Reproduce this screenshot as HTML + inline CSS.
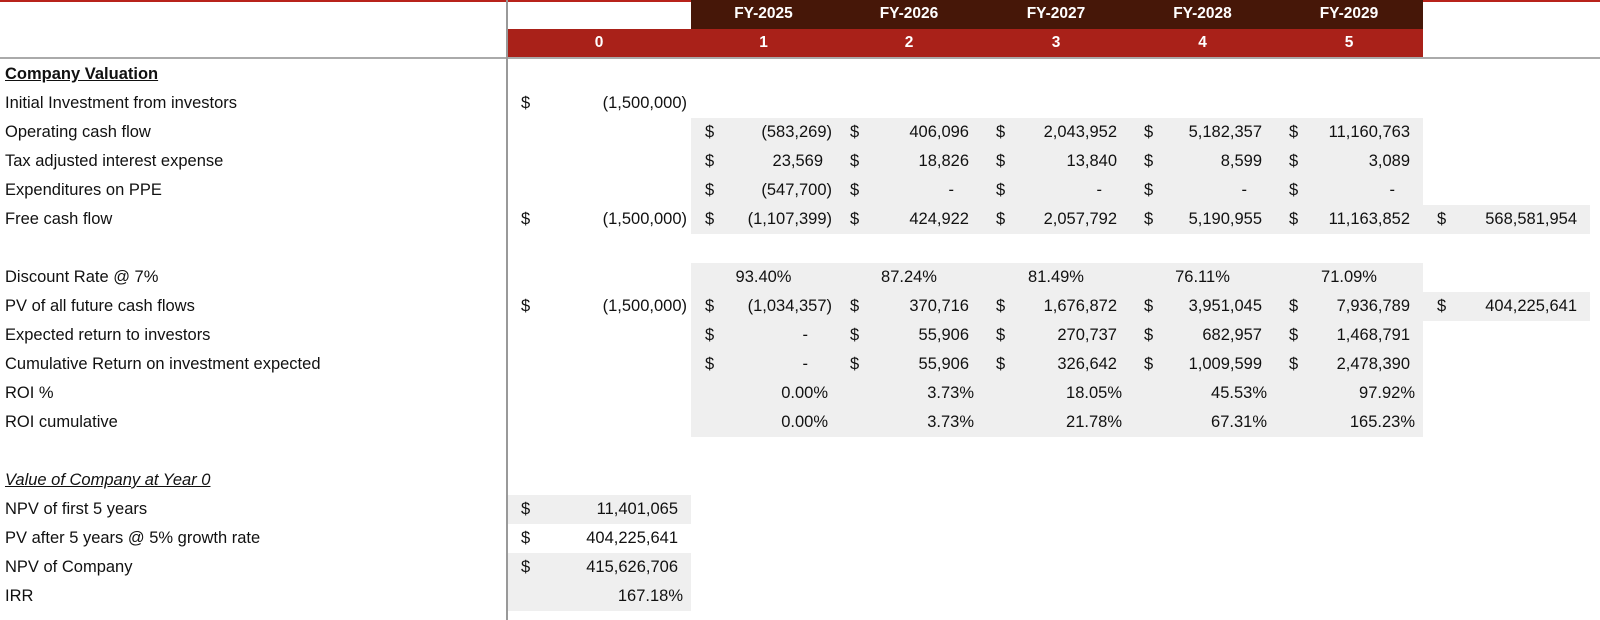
<!DOCTYPE html>
<html><head><meta charset="utf-8">
<style>
*{margin:0;padding:0;box-sizing:border-box}
body{width:1600px;height:620px;background:#fff;position:relative;overflow:hidden;font-family:"Liberation Sans",sans-serif;font-size:16.5px;color:#111}
.a{position:absolute;white-space:nowrap}
.g{position:absolute;background:#efefef}
.lbl{position:absolute;left:5px;height:29px;line-height:29px;white-space:nowrap;font-size:16.5px}
.hd{position:absolute;color:#fff;font-weight:bold;font-size:15.5px;text-align:center;height:28px;line-height:28px}
</style></head><body>
<div class="a" style="left:0;top:0;width:1600px;height:2px;background:#b8231b"></div>
<div class="a" style="left:691px;top:0;width:732px;height:29px;background:#461708"></div>
<div class="a" style="left:507px;top:29px;width:916px;height:28px;background:#a92119"></div>
<div class="a" style="left:0;top:57px;width:1600px;height:2px;background:#aaa"></div>
<div id="root"></div>
<div class="a" style="left:506px;top:0;width:2px;height:620px;background:#999"></div>
<script>
const bounds=[507,691,836,982,1130,1275,1423,1590];
const fyLabels=["","FY-2025","FY-2026","FY-2027","FY-2028","FY-2029"];
const periods=["0","1","2","3","4","5"];
const rowLabels=["Company Valuation","Initial Investment from investors","Operating cash flow","Tax adjusted interest expense","Expenditures on PPE","Free cash flow","","Discount Rate @ 7%","PV of all future cash flows","Expected return to investors","Cumulative Return on investment expected","ROI %","ROI cumulative","","Value of Company at Year 0","NPV of first 5 years","PV after 5 years @ 5% growth rate","NPV of Company","IRR"];
const cells=[
[1,0,"d","(1,500,000)"],
[2,1,"d","(583,269)"],[2,2,"d","406,096"],[2,3,"d","2,043,952"],[2,4,"d","5,182,357"],[2,5,"d","11,160,763"],
[3,1,"d","23,569"],[3,2,"d","18,826"],[3,3,"d","13,840"],[3,4,"d","8,599"],[3,5,"d","3,089"],
[4,1,"d","(547,700)"],[4,2,"d","-"],[4,3,"d","-"],[4,4,"d","-"],[4,5,"d","-"],
[5,0,"d","(1,500,000)"],[5,1,"d","(1,107,399)"],[5,2,"d","424,922"],[5,3,"d","2,057,792"],[5,4,"d","5,190,955"],[5,5,"d","11,163,852"],[5,6,"d","568,581,954"],
[7,1,"c","93.40%"],[7,2,"c","87.24%"],[7,3,"c","81.49%"],[7,4,"c","76.11%"],[7,5,"c","71.09%"],
[8,0,"d","(1,500,000)"],[8,1,"d","(1,034,357)"],[8,2,"d","370,716"],[8,3,"d","1,676,872"],[8,4,"d","3,951,045"],[8,5,"d","7,936,789"],[8,6,"d","404,225,641"],
[9,1,"d","-"],[9,2,"d","55,906"],[9,3,"d","270,737"],[9,4,"d","682,957"],[9,5,"d","1,468,791"],
[10,1,"d","-"],[10,2,"d","55,906"],[10,3,"d","326,642"],[10,4,"d","1,009,599"],[10,5,"d","2,478,390"],
[11,1,"p","0.00%"],[11,2,"p","3.73%"],[11,3,"p","18.05%"],[11,4,"p","45.53%"],[11,5,"p","97.92%"],
[12,1,"p","0.00%"],[12,2,"p","3.73%"],[12,3,"p","21.78%"],[12,4,"p","67.31%"],[12,5,"p","165.23%"],
[15,0,"d","11,401,065"],[16,0,"d","404,225,641"],[17,0,"d","415,626,706"],[18,0,"p","167.18%"]
];
const fills=[[2,4,1,5],[5,5,1,6],[7,7,1,5],[8,8,1,6],[9,12,1,5],[15,15,0,0],[17,18,0,0]];
const T=60,P=29;
const root=document.getElementById('root');
function mk(cls,name){const e=document.createElement('div');e.className=cls;


root.appendChild(e);return e;}
fills.forEach(f=>{const e=mk('g','gray-fill');e.style.left=bounds[f[2]]+'px';e.style.width=(bounds[f[3]+1]-bounds[f[2]])+'px';e.style.top=(T+f[0]*P)+'px';e.style.height=((f[1]-f[0]+1)*P)+'px';});
fyLabels.forEach((t,i)=>{if(!t)return;const e=mk('hd','fy-header');e.textContent=t;e.style.left=bounds[i]+'px';e.style.width=(bounds[i+1]-bounds[i])+'px';e.style.top='0px';});
periods.forEach((t,i)=>{const e=mk('hd','period-header');e.textContent=t;e.style.left=bounds[i]+'px';e.style.width=(bounds[i+1]-bounds[i])+'px';e.style.top='29px';});
rowLabels.forEach((t,i)=>{if(!t)return;const e=mk('lbl','row-label');e.textContent=t;e.style.top=(T+i*P)+'px';
if(i===0){e.style.fontWeight='bold';e.style.textDecoration='underline';}
if(i===14){e.style.fontStyle='italic';e.style.textDecoration='underline';}});
cells.forEach(c=>{const [r,col,ty,tx]=c;const L=bounds[col],R=bounds[col+1],y=T+r*P;
if(ty==='d'){const s=mk('a','dollar-sign');s.textContent='$';s.style.left=(L+14)+'px';s.style.top=y+'px';s.style.lineHeight='29px';
const v=mk('a','cell-value');v.textContent=tx;v.style.top=y+'px';v.style.lineHeight='29px';
let pad=tx.endsWith(')')?4:(tx==='-'?28:13);v.style.right=(1600-R+pad)+'px';}
else if(ty==='c'){const v=mk('a','cell-value');v.textContent=tx;v.style.top=y+'px';v.style.lineHeight='29px';v.style.left=L+'px';v.style.width=(R-L)+'px';v.style.textAlign='center';}
else{const v=mk('a','cell-value');v.textContent=tx;v.style.top=y+'px';v.style.lineHeight='29px';v.style.right=(1600-R+8)+'px';}
});
</script>
</body></html>
